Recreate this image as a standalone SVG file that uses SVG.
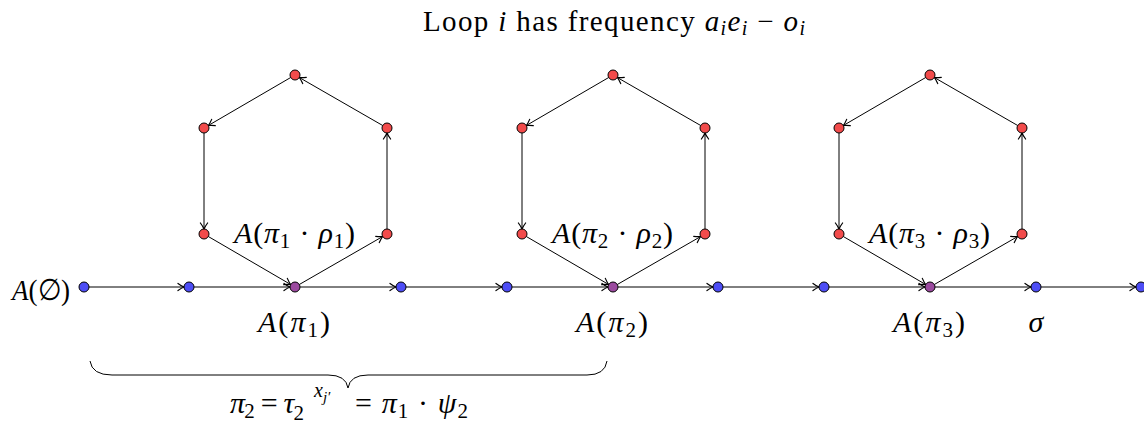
<svg xmlns="http://www.w3.org/2000/svg" width="1144" height="426" viewBox="0 0 1144 426">
<style>
.n{stroke:#000;stroke-width:1}
.r{fill:#f24b4b}
.b{fill:#4d4df5}
.p{fill:#9b4a9f}
.e{stroke:#000;stroke-width:1;fill:none;marker-end:url(#arr)}
text{font-family:"Liberation Serif",serif;fill:#000}
.t{font-size:29px}
.l{font-size:30px}
.i{font-style:italic}
.s{font-size:21px}
</style>
<defs>
<marker id="arr" viewBox="-7 -5 8 10" markerWidth="8" markerHeight="10" refX="0" refY="0" orient="auto" markerUnits="userSpaceOnUse">
<path d="M-6,-3.6 Q-2.5,-1 0,0 Q-2.5,1 -6,3.6" fill="none" stroke="#000" stroke-width="1.2" stroke-linecap="round"/>
</marker>
<g id="hexedges">
<line x1="299.3" y1="284.5" x2="382.7" y2="236.5"/>
<line x1="387" y1="229" x2="387" y2="133"/>
<line x1="382.7" y1="125.5" x2="299.3" y2="77.5"/>
<line x1="290.7" y1="77.5" x2="208.3" y2="125.5"/>
<line x1="204" y1="133" x2="204" y2="229"/>
<line x1="208.3" y1="236.5" x2="290.7" y2="284.5"/>
</g>
</defs>
<g id="connectors">
<g class="e">
<line x1="89" y1="287" x2="184" y2="287"/>
<line x1="194" y1="287" x2="290" y2="287"/>
<line x1="300" y1="287" x2="396" y2="287"/>
<line x1="406" y1="287" x2="502" y2="287"/>
<line x1="512" y1="287" x2="608" y2="287"/>
<line x1="618" y1="287" x2="713" y2="287"/>
<line x1="723" y1="287" x2="819" y2="287"/>
<line x1="829" y1="287" x2="925" y2="287"/>
<line x1="935" y1="287" x2="1031" y2="287"/>
<line x1="1041" y1="287" x2="1136" y2="287"/>
</g>
<g class="e"><use href="#hexedges"/></g>
<g class="e" transform="translate(318,0)"><use href="#hexedges"/></g>
<g class="e" transform="translate(635,0)"><use href="#hexedges"/></g>
</g>
<g id="loop1">
<circle class="n r" cx="295" cy="75" r="5"/>
<circle class="n r" cx="204" cy="128" r="5"/>
<circle class="n r" cx="387" cy="128" r="5"/>
<circle class="n r" cx="204" cy="234" r="5"/>
<circle class="n r" cx="387" cy="234" r="5"/>
</g>
<g id="loop2">
<circle class="n r" cx="613" cy="75" r="5"/>
<circle class="n r" cx="522" cy="128" r="5"/>
<circle class="n r" cx="705" cy="128" r="5"/>
<circle class="n r" cx="522" cy="234" r="5"/>
<circle class="n r" cx="705" cy="234" r="5"/>
</g>
<g id="loop3">
<circle class="n r" cx="930" cy="75" r="5"/>
<circle class="n r" cx="839" cy="128" r="5"/>
<circle class="n r" cx="1022" cy="128" r="5"/>
<circle class="n r" cx="839" cy="234" r="5"/>
<circle class="n r" cx="1022" cy="234" r="5"/>
</g>
<g id="path">
<circle class="n b" cx="84" cy="287" r="5"/>
<circle class="n b" cx="189" cy="287" r="5"/>
<circle class="n p" cx="295" cy="287" r="5"/>
<circle class="n b" cx="401" cy="287" r="5"/>
<circle class="n b" cx="507" cy="287" r="5"/>
<circle class="n p" cx="613" cy="287" r="5"/>
<circle class="n b" cx="718" cy="287" r="5"/>
<circle class="n b" cx="824" cy="287" r="5"/>
<circle class="n p" cx="930" cy="287" r="5"/>
<circle class="n b" cx="1036" cy="287" r="5"/>
<circle class="n b" cx="1141" cy="287" r="5"/>
</g>
<g id="labels">
<text class="t" x="423" y="31" textLength="382" lengthAdjust="spacing">Loop <tspan class="i">i</tspan> has frequency <tspan class="i">a</tspan><tspan class="i" font-size="20" dy="4">i</tspan><tspan class="i" dy="-4">e</tspan><tspan class="i" font-size="20" dy="4">i</tspan><tspan dy="-4"> − </tspan><tspan class="i">o</tspan><tspan class="i" font-size="20" dy="4">i</tspan></text>
<text class="l" x="12" y="300" textLength="58" lengthAdjust="spacingAndGlyphs"><tspan class="i">A</tspan>(∅)</text>
<text class="l" x="234" y="243" textLength="121" lengthAdjust="spacing"><tspan class="i">A</tspan>(<tspan class="i">π</tspan><tspan class="s" dy="5">1</tspan><tspan dy="-5"> · </tspan><tspan class="i">ρ</tspan><tspan class="s" dy="5">1</tspan><tspan dy="-5">)</tspan></text>
<text class="l" x="552" y="243" textLength="121" lengthAdjust="spacing"><tspan class="i">A</tspan>(<tspan class="i">π</tspan><tspan class="s" dy="5">2</tspan><tspan dy="-5"> · </tspan><tspan class="i">ρ</tspan><tspan class="s" dy="5">2</tspan><tspan dy="-5">)</tspan></text>
<text class="l" x="869" y="243" textLength="121" lengthAdjust="spacing"><tspan class="i">A</tspan>(<tspan class="i">π</tspan><tspan class="s" dy="5">3</tspan><tspan dy="-5"> · </tspan><tspan class="i">ρ</tspan><tspan class="s" dy="5">3</tspan><tspan dy="-5">)</tspan></text>
<text class="l" x="258" y="332" textLength="72" lengthAdjust="spacing"><tspan class="i">A</tspan>(<tspan class="i">π</tspan><tspan class="s" dy="5">1</tspan><tspan dy="-5">)</tspan></text>
<text class="l" x="576" y="332" textLength="72" lengthAdjust="spacing"><tspan class="i">A</tspan>(<tspan class="i">π</tspan><tspan class="s" dy="5">2</tspan><tspan dy="-5">)</tspan></text>
<text class="l" x="893" y="332" textLength="72" lengthAdjust="spacing"><tspan class="i">A</tspan>(<tspan class="i">π</tspan><tspan class="s" dy="5">3</tspan><tspan dy="-5">)</tspan></text>
<text class="l i" x="1036" y="332" text-anchor="middle">σ</text>
</g>
<g id="brace">
<path d="M90,361 Q92,375 112,375 L328,375 Q346,375 348,388 Q350,375 368,375 L587,375 Q605,375 607,361" fill="none" stroke="#000" stroke-width="1"/>
<text class="l" x="230" y="413" textLength="74" lengthAdjust="spacing"><tspan class="i">π</tspan><tspan class="s" dy="5">2</tspan><tspan dy="-5"> = </tspan><tspan class="i">τ</tspan><tspan class="s" dy="7">2</tspan></text>
<text class="i" font-size="20" x="314" y="397">x<tspan font-size="15" dy="5">j′</tspan></text>
<text class="l" x="355" y="413" textLength="113" lengthAdjust="spacing">= <tspan class="i">π</tspan><tspan class="s" dy="5">1</tspan><tspan dy="-5"> · </tspan><tspan class="i">ψ</tspan><tspan class="s" dy="5">2</tspan></text>
</g>
</svg>
